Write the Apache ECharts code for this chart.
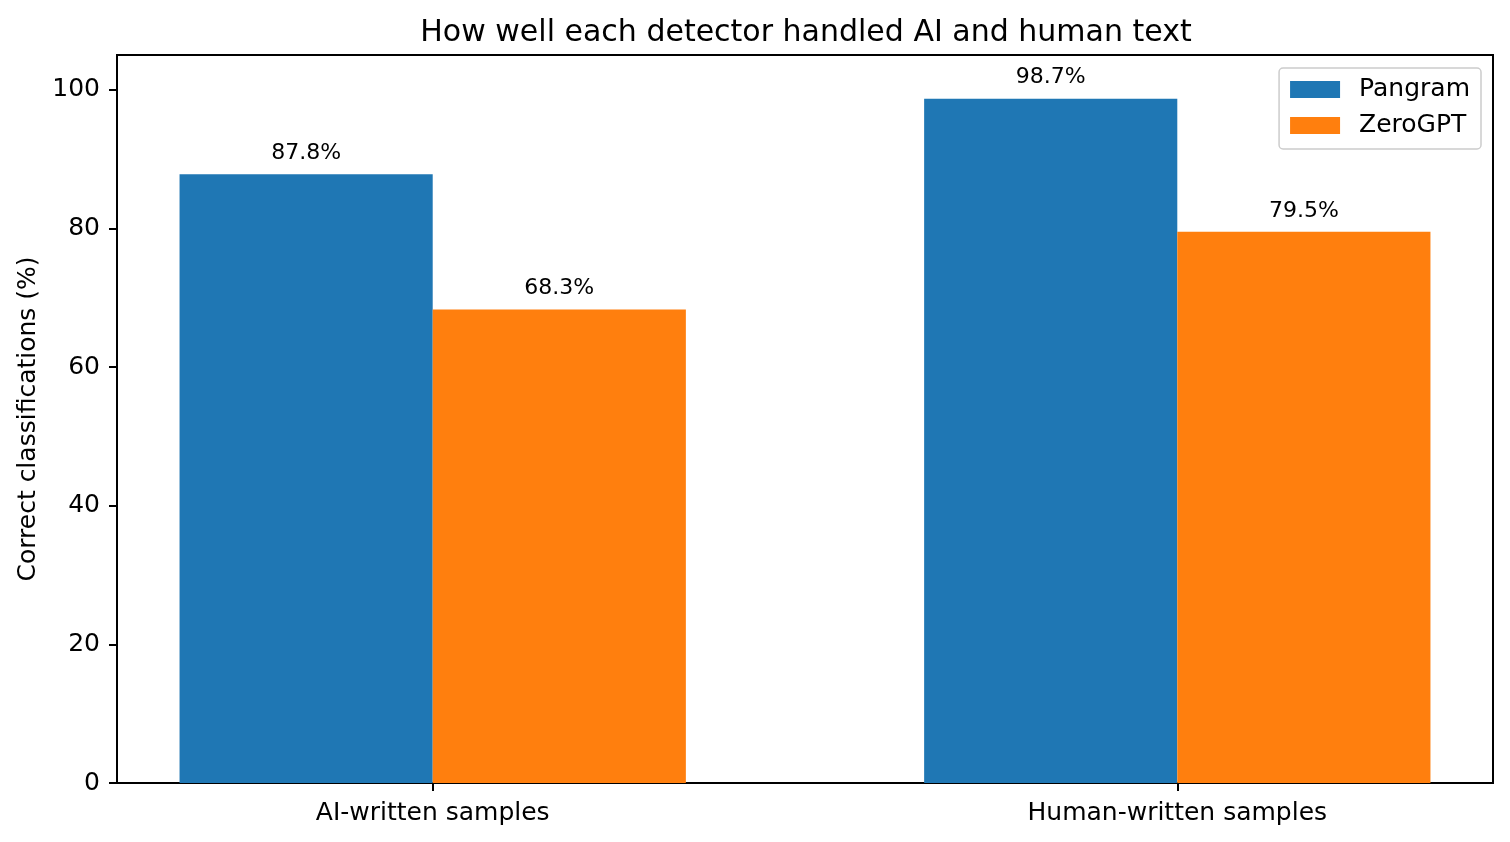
<!DOCTYPE html>
<html>
<head>
<meta charset="utf-8">
<title>Detector accuracy</title>
<script src="https://cdn.jsdelivr.net/npm/echarts@6/dist/echarts.min.js"></script>
<style>
  html, body { margin: 0; padding: 0; background: #fff; }
  #main { width: 1510px; height: 842px; }
</style>
</head>
<body>
<div id="main"></div>
<script>
var categories = ['AI-written samples', 'Human-written samples'];
var detectors = ['Pangram', 'ZeroGPT'];
var pangramValues = [87.8, 98.7];
var zerogptValues = [68.3, 79.5];
var yTicks = [0, 20, 40, 60, 80, 100];

var FONT = 'DejaVu Sans';
var BAR_W = 0.34;
var colors = ['#1f77b4', '#ff7f0e'];

// 把每个分类的数值转换为 [分类序号, 数值]
function toPoints(values) {
    return values.map(function (v, i) { return [i, v]; });
}

function renderBar(offset) {
    return function (params, api) {
        var i = api.value(0);
        var v = api.value(1);
        var p0 = api.coord([i + offset - BAR_W / 2, v]);
        var p1 = api.coord([i + offset + BAR_W / 2, 0]);
        return {
            type: 'rect',
            shape: { x: p0[0], y: p0[1], width: p1[0] - p0[0], height: p1[1] - p0[1] },
            style: api.style({ text: null }),
            textContent: {
                style: {
                    text: v.toFixed(1) + '%',
                    fill: '#000',
                    font: '22px "' + FONT + '"',
                    lineHeight: 22
                }
            },
            textConfig: { position: 'top', distance: 10 }
        };
    };
}

var myChart = echarts.init(document.getElementById('main'));
myChart.setOption({
    animation: false,
    backgroundColor: '#fff',
    title: {
        text: 'How well each detector handled AI and human text',
        left: 801,
        textAlign: 'center',
        top: 13,
        textStyle: { fontFamily: FONT, fontSize: 30, fontWeight: 'normal', color: '#000', lineHeight: 30 }
    },
    legend: {
        data: detectors,
        orient: 'vertical',
        right: 29,
        top: 68,
        icon: 'rect',
        itemWidth: 50,
        itemHeight: 17,
        itemGap: 11,
        padding: [9, 11, 11, 11],
        backgroundColor: 'rgba(255,255,255,0.8)',
        borderColor: '#cccccc',
        borderWidth: 1.5,
        borderRadius: 4,
        textStyle: { fontFamily: FONT, fontSize: 25, color: '#000', lineHeight: 22, padding: [0, 0, 0, 14] }
    },
    grid: {
        left: 117, right: 17, top: 55, bottom: 59,
        show: true, borderColor: '#000', borderWidth: 2, backgroundColor: 'transparent'
    },
    xAxis: {
        type: 'value',
        min: -0.424,
        max: 1.424,
        splitLine: { show: false },
        axisLine: { show: true, onZero: false, lineStyle: { color: '#000', width: 2 } },
        axisTick: {
            show: true, inside: false, length: 8,
            customValues: [0, 1],
            lineStyle: { color: '#000', width: 2 }
        },
        axisLabel: {
            customValues: [0, 1],
            margin: 18,
            fontFamily: FONT, fontSize: 25, color: '#000',
            formatter: function (v) { return categories[Math.round(v)]; }
        }
    },
    yAxis: {
        type: 'value',
        min: 0,
        max: 105,
        name: 'Correct classifications (%)',
        nameLocation: 'middle',
        nameGap: 76,
        nameTextStyle: { fontFamily: FONT, fontSize: 25, color: '#000' },
        splitLine: { show: false },
        axisLine: { show: true, onZero: false, lineStyle: { color: '#000', width: 2 } },
        axisTick: {
            show: true, inside: false, length: 8,
            customValues: yTicks,
            lineStyle: { color: '#000', width: 2 }
        },
        axisLabel: {
            customValues: yTicks,
            margin: 17,
            padding: [4, 0, 0, 0],
            fontFamily: FONT, fontSize: 25, color: '#000'
        }
    },
    series: [
        {
            name: detectors[0],
            type: 'custom',
            renderItem: renderBar(-BAR_W / 2),
            itemStyle: { color: colors[0] },
            encode: { x: 0, y: 1 },
            data: toPoints(pangramValues)
        },
        {
            name: detectors[1],
            type: 'custom',
            renderItem: renderBar(BAR_W / 2),
            itemStyle: { color: colors[1] },
            encode: { x: 0, y: 1 },
            data: toPoints(zerogptValues)
        }
    ]
});
</script>
</body>
</html>
